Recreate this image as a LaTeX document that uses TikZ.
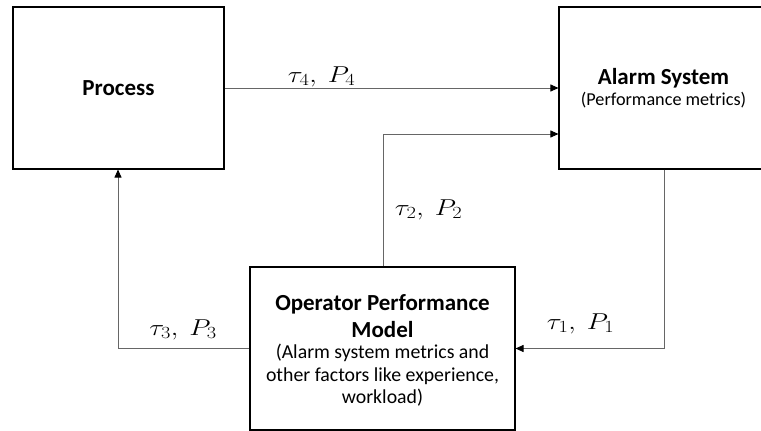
\RequirePackage{fix-cm}
\documentclass[tikz,border=0pt]{standalone}
\usepackage{fontspec}
\usepackage{graphicx}
\setmainfont{Carlito}
\usetikzlibrary{arrows.meta}
\DeclareMathSizes{23}{23}{17}{13}
\newcommand{\lblmath}[1]{\scalebox{1.2}[1]{$#1$}}
\begin{document}
\begin{tikzpicture}[x=1pt,y=1pt,
  box/.style={draw=black,line width=1.1pt,rectangle,inner sep=0pt},
  conn/.style={draw=black!60,line width=0.9pt,-{Triangle[length=8pt,width=7pt,color=black]}},
  ttl/.style={anchor=base,inner sep=0pt,font=\fontsize{23}{27}\selectfont\bfseries},
  subA/.style={anchor=base,inner sep=0pt,font=\fontsize{18.2}{22}\selectfont},
  subO/.style={anchor=base,inner sep=0pt,font=\fontsize{19.8}{22}\selectfont},
  lbl/.style={anchor=base,inner sep=0pt,font=\fontsize{23}{27}\selectfont}
]
\clip (0,0) rectangle (761,-431);
\node[box,minimum width=211pt,minimum height=162pt] (P) at (118.5,-88) {};
\node[box,minimum width=209pt,minimum height=162pt] (A) at (663.5,-88) {};
\node[box,minimum width=265pt,minimum height=163pt] (O) at (382.5,-348.5) {};
\node[ttl] (Pt) at (118.5,-95) {Process};
\node[ttl] (At) at (663.5,-84) {Alarm System};
\node[subA] (As) at (663.5,-105) {(Performance metrics)};
\node[ttl] (Ot1) at (382.5,-310) {Operator Performance};
\node[ttl] (Ot2) at (382.5,-337) {Model};
\node[subO] (Os1) at (382.5,-358.5) {(Alarm system metrics and};
\node[subO] (Os2) at (382.5,-381) {other factors like experience,};
\node[subO] (Os3) at (382.5,-403) {workload)};
\coordinate (c2) at (383,-134);
\coordinate (c1) at (664,-349);
\coordinate (c3) at (118,-349);
\draw[conn] (P.east) -- (A.west);
\draw[conn] (O.north -| c2) |- (A.west |- c2);
\draw[conn] (A.south -| c1) |- (O.east);
\draw[conn] (O.west) -| (P.south -| c3);
\node[lbl] (l4) at (321.5,-82) {\lblmath{\tau_4,\ P_4}};
\node[lbl] (l2) at (428.5,-215) {\lblmath{\tau_2,\ P_2}};
\node[lbl] (l3) at (183,-335) {\lblmath{\tau_3,\ P_3}};
\node[lbl] (l1) at (580.5,-329) {\lblmath{\tau_1,\ P_1}};
\end{tikzpicture}
\end{document}
